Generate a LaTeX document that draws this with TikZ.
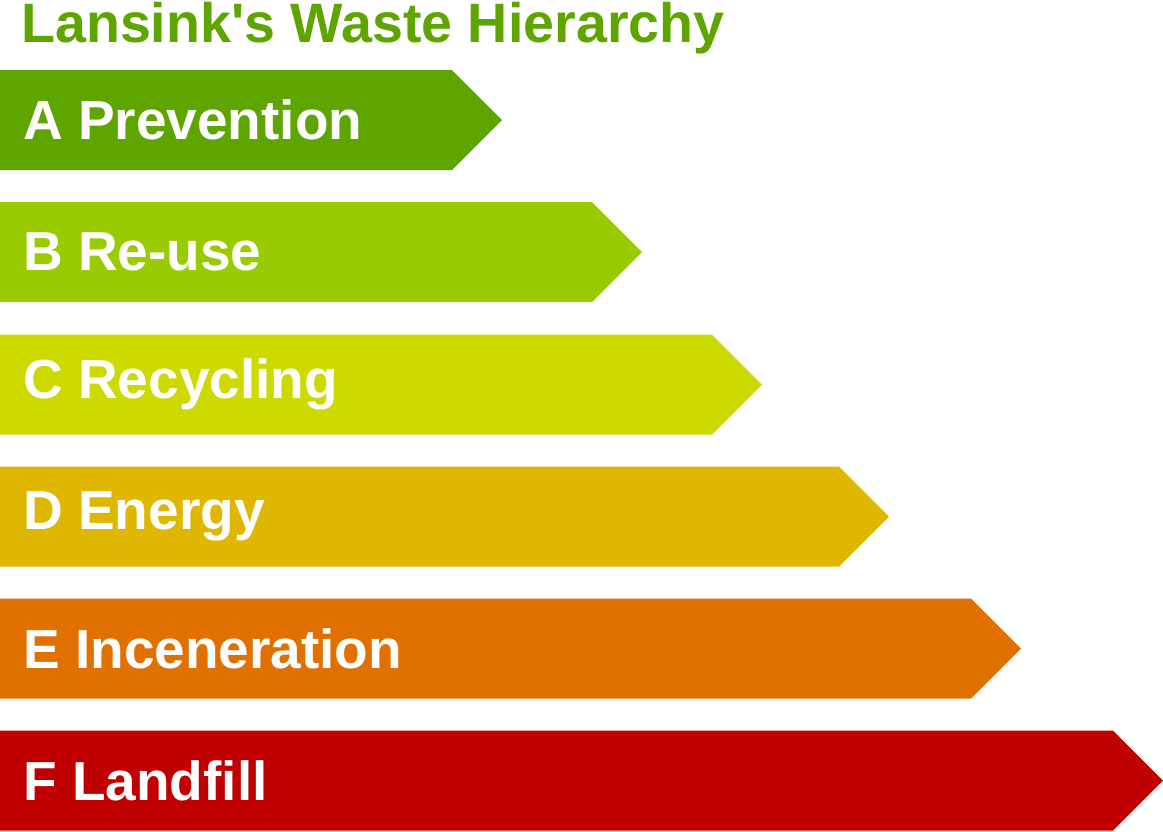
\documentclass[tikz,border=0pt]{standalone}
\usepackage{fontspec}
\setmainfont{Liberation Sans}
\usetikzlibrary{positioning,shapes.symbols}
\definecolor{prevgreen}{HTML}{5FA500}
\definecolor{reusegreen}{HTML}{99CC00}
\definecolor{recyclime}{HTML}{CCDA00}
\definecolor{energyyellow}{HTML}{E0B700}
\definecolor{incenorange}{HTML}{E07000}
\definecolor{landred}{HTML}{C00000}
\tikzset{
    every node/.style={font=\fontsize{55}{60}\selectfont\bfseries},
    wastebar/.style={signal, signal to=east, signal pointer angle=90, inner sep=0pt, outer sep=0pt, minimum height=100pt, anchor=west},
    barlabel/.style={text=white, anchor=west, inner sep=0pt},
}
\begin{document}
\begin{tikzpicture}[x=1pt,y=-1pt]
  \useasboundingbox (0,0) rectangle (1163,831);
  % Title
  \node[text=prevgreen, anchor=base west, inner sep=0pt, font=\fontsize{55.6}{60}\selectfont\bfseries] (title) at (21,42) {Lansink\textquotesingle s Waste Hierarchy};
  % Bars, one per step
  \node[wastebar, fill=prevgreen, minimum width=502pt] (prev) at (0,120) {};
  \node[wastebar, fill=reusegreen, minimum width=642pt] (reuse) at (0,252) {};
  \node[wastebar, fill=recyclime, minimum width=762pt] (recyc) at (0,384.5) {};
  \node[wastebar, fill=energyyellow, minimum width=889pt] (energy) at (0,516.5) {};
  \node[wastebar, fill=incenorange, minimum width=1021pt] (incen) at (0,648.5) {};
  \node[wastebar, fill=landred, minimum width=1163pt] (land) at (0,780.5) {};
  % Labels on top
  \node[barlabel] (prevtext) at ([xshift=23pt]prev.west) {A Prevention};
  \node[barlabel] (reusetext) at ([xshift=23pt]reuse.west) {B Re-use};
  \node[barlabel] (recyctext) at ([xshift=23pt]recyc.west) {C Recycling};
  \node[barlabel] (energytext) at ([xshift=23pt]energy.west) {D Energy};
  \node[barlabel] (incentext) at ([xshift=23pt]incen.west) {E Inceneration};
  \node[barlabel] (landtext) at ([xshift=23pt]land.west) {F Landfill};
\end{tikzpicture}
\end{document}
